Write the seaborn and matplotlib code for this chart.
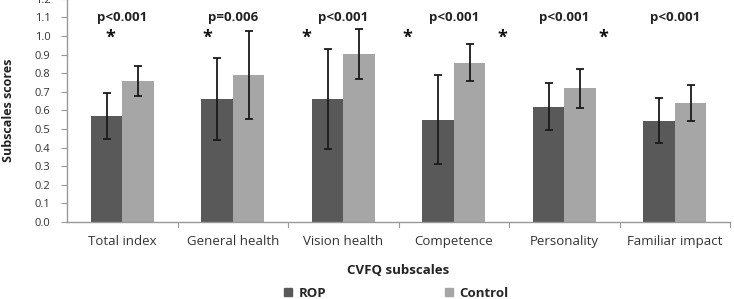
import matplotlib
matplotlib.use("Agg")
import matplotlib.pyplot as plt
import pandas as pd
import seaborn as sns

subscales = ["Total index", "General health", "Vision health", "Competence", "Personality", "Familiar impact"]
rop_mean = [0.57, 0.66, 0.66, 0.55, 0.62, 0.545]
rop_sd = [0.125, 0.22, 0.27, 0.24, 0.125, 0.12]
control_mean = [0.76, 0.79, 0.905, 0.857, 0.72, 0.64]
control_sd = [0.08, 0.235, 0.135, 0.10, 0.105, 0.095]
p_labels = ["p<0.001", "p=0.006", "p<0.001", "p<0.001", "p<0.001", "p<0.001"]
star_x = [-0.11, 0.77, 1.67, 2.58, 3.44, 4.35]  # asterisks sit a bit off-centre in the original

sns.set_style("white")
plt.rcParams["font.family"] = ["Open Sans", "DejaVu Sans"]

df = pd.DataFrame({
    "subscale": subscales * 2,
    "group": ["ROP"] * len(subscales) + ["Control"] * len(subscales),
    "score": rop_mean + control_mean,
})
sds = rop_sd + control_sd

fig = plt.figure(figsize=(7.34, 2.99), dpi=100)
ax = fig.add_axes([0.0913, 0.2575, 0.9033, 0.7465])

sns.barplot(data=df, x="subscale", y="score", hue="group", order=subscales,
            hue_order=["ROP", "Control"], palette=["#595959", "#a6a6a6"],
            width=0.57, errorbar=None, ax=ax, legend=False, linewidth=0, saturation=1)

# error bars on each bar centre
for patch, sd in zip(ax.patches, sds):
    cx = patch.get_x() + patch.get_width() / 2
    ax.errorbar(cx, patch.get_height(), yerr=sd, fmt="none", ecolor="#1a1a1a",
                elinewidth=1.3, capsize=3, capthick=1.3)

for i, lab in enumerate(p_labels):
    ax.text(i, 1.1, lab, ha="center", va="center", fontsize=9.5, fontweight="bold", color="#222222")

for x in star_x:
    ax.text(x, 0.99, "*", ha="center", va="center", fontsize=13, fontweight="bold", color="#111111")

ax.set_ylim(0, 1.2)
ax.set_xlim(-0.5, 5.5)
ax.set_yticks([i / 10 for i in range(13)])
ax.set_yticklabels([f"{i / 10:.1f}" for i in range(13)], fontsize=8, color="#333333")
ax.set_xticks(range(len(subscales)))
ax.set_xticklabels(subscales, fontsize=9.5, color="#333333")
ax.tick_params(axis="x", length=0, pad=9)
ax.tick_params(axis="y", length=4, width=0.8, color="#999999", direction="out", left=True, pad=8)
for x in [0.5, 1.5, 2.5, 3.5, 4.5, 5.5]:
    ax.plot([x, x], [0, -0.025], color="#999999", lw=0.8, clip_on=False)

for side in ["top", "right"]:
    ax.spines[side].set_visible(False)
for side in ["left", "bottom"]:
    ax.spines[side].set_color("#999999")
    ax.spines[side].set_linewidth(1.0)

ax.set_xlabel("CVFQ subscales", fontsize=9.5, fontweight="bold", color="#222222", labelpad=12)
ax.set_ylabel("Subscales scores", fontsize=9, fontweight="bold", color="#222222", labelpad=14)

handles = [plt.Rectangle((0, 0), 1, 1, color="#595959"), plt.Rectangle((0, 0), 1, 1, color="#a6a6a6")]
fig.legend(handles, ["ROP", "Control"], loc="center", bbox_to_anchor=(0.54, 0.02), ncol=2,
           frameon=False, handlelength=0.6, handleheight=0.6, handletextpad=0.5,
           columnspacing=9, prop={"weight": "bold", "size": 9.5})

fig.savefig("out.png", dpi=100)
